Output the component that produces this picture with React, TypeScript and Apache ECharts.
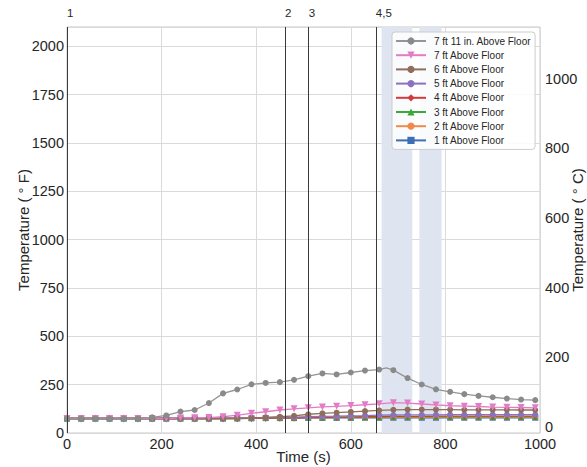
import React, { useEffect, useRef } from "react";
import * as echarts from "echarts";

// Time stamps (s) of the plotted samples
const times = [0, 30, 60, 90, 120, 150, 180, 210, 240, 270, 300, 330, 360, 390, 420, 450, 480, 510, 540, 570, 600, 630, 660, 690, 720, 750, 780, 810, 840, 870, 900, 930, 960, 990];

// Temperatures (°F)
const ft1 = [75, 75, 75, 75, 75, 75, 75, 75, 75, 75, 75, 75, 76, 76, 77, 77, 77, 78, 78, 78, 78, 79, 79, 79, 79, 79, 79, 79, 79, 79, 79, 79, 79, 79];
const ft2 = [75, 75, 75, 75, 75, 75, 75, 75, 75, 75, 75, 76, 76, 77, 77, 78, 78, 79, 79, 80, 80, 80, 81, 81, 81, 81, 81, 81, 81, 81, 81, 81, 81, 81];
const ft3 = [75, 75, 75, 75, 75, 75, 75, 75, 75, 75, 75, 76, 76, 77, 78, 78, 79, 80, 80, 81, 81, 82, 82, 83, 83, 83, 83, 83, 83, 83, 83, 83, 83, 83];
const ft4 = [75, 75, 75, 75, 75, 75, 75, 75, 75, 75, 75, 75, 75, 76, 77, 78, 79, 80, 81, 82, 83, 84, 85, 86, 86, 86, 87, 87, 87, 87, 87, 87, 87, 87];
const ft5 = [75, 75, 75, 75, 75, 75, 75, 75, 75, 75, 75, 76, 77, 78, 80, 81, 82, 84, 86, 87, 89, 90, 92, 93, 94, 94, 94, 95, 95, 95, 95, 95, 95, 95];
const ft6 = [75, 75, 75, 75, 75, 75, 75, 75, 75, 75, 75, 75, 75, 77, 81, 84, 89, 97, 102, 105, 109, 113, 117, 120, 121, 121, 121, 121, 120, 120, 120, 120, 119, 119];
const ft7 = [75, 75, 75, 75, 75, 75, 75, 75, 78, 79, 80, 84, 92, 102, 110, 119, 125, 130, 135, 138, 142, 146, 151, 157, 155, 150, 145, 141, 139, 137, 134, 133, 132, 130];
const ft7_11Times = [0, 30, 60, 90, 120, 150, 180, 210, 240, 270, 300, 330, 360, 390, 420, 450, 480, 510, 540, 570, 600, 630, 660, 675, 690, 720, 750, 780, 810, 840, 870, 900, 930, 960, 990];
const ft7_11 = [75, 75, 75, 75, 75, 75, 81, 91, 111, 119, 155, 205, 225, 252, 259, 263, 275, 294, 308, 303, 313, 323, 328, 337, 325, 284, 251, 226, 213, 201, 192, 185, 178, 173, 170];

const seriesNames = [
  "1 ft Above Floor",
  "2 ft Above Floor",
  "3 ft Above Floor",
  "4 ft Above Floor",
  "5 ft Above Floor",
  "6 ft Above Floor",
  "7 ft Above Floor",
  "7 ft 11 in. Above Floor",
];

// Event markers
const eventTimes = [0, 461, 511, 653];
const eventLabels = ["1", "2", "3", "4,5"];
const bands = [
  [665, 730],
  [745, 792],
];

// Tick labels
const xTicks = [0, 200, 400, 600, 800, 1000];
const fTicks = [0, 250, 500, 750, 1000, 1250, 1500, 1750, 2000];
const cTicks = [0, 200, 400, 600, 800, 1000];

const FONT = "'Liberation Sans', Arial, sans-serif";
const TXT = "#262626";

export default function App() {
  const ref = useRef<HTMLDivElement>(null);
  useEffect(() => {
    if (!ref.current) return;
    const chart = echarts.init(ref.current, undefined, { renderer: "svg" });

    const styles = [
      { color: "#3d6fb6", symbol: "rect", size: 6, rotate: 0 },
      { color: "#f08a4b", symbol: "circle", size: 6, rotate: 0 },
      { color: "#3aa83a", symbol: "triangle", size: 6, rotate: 0 },
      { color: "#d33a3a", symbol: "diamond", size: [4, 8], rotate: 0 },
      { color: "#8a72c0", symbol: "circle", size: 6, rotate: 0 },
      { color: "#8f6e5c", symbol: "circle", size: 6, rotate: 0 },
      { color: "#e37cc6", symbol: "triangle", size: 7, rotate: 180 },
      { color: "#8a8a8a", symbol: "circle", size: 6, rotate: 0 },
    ];
    const values = [ft1, ft2, ft3, ft4, ft5, ft6, ft7];

    const dataSeries: any[] = values.map((vals, i) => ({
      name: seriesNames[i],
      type: "line",
      xAxisIndex: 0,
      yAxisIndex: 0,
      data: times.map((t, k) => [t, vals[k]]),
      symbol: styles[i].symbol,
      symbolSize: styles[i].size,
      symbolRotate: styles[i].rotate,
      showAllSymbol: true,
      itemStyle: { color: styles[i].color },
      lineStyle: { color: styles[i].color, width: 1.3 },
    }));
    dataSeries.push({
      name: seriesNames[7],
      type: "line",
      xAxisIndex: 0,
      yAxisIndex: 0,
      data: ft7_11Times.map((t, k) =>
        times.includes(t)
          ? [t, ft7_11[k]]
          : { value: [t, ft7_11[k]], symbol: "none" }
      ),
      symbol: styles[7].symbol,
      symbolSize: styles[7].size,
      showAllSymbol: true,
      itemStyle: { color: styles[7].color },
      lineStyle: { color: "#959595", width: 1.3 },
    });

    const helper = {
      name: "events",
      type: "line",
      xAxisIndex: 0,
      yAxisIndex: 0,
      data: [],
      silent: true,
      markArea: {
        silent: true,
        itemStyle: { color: "#dee4f0" },
        data: bands.map((b) => [{ xAxis: b[0] }, { xAxis: b[1] }]),
      },
      markLine: {
        silent: true,
        symbol: "none",
        label: { show: false },
        lineStyle: { color: "#3a3a3a", width: 1, type: "solid" },
        data: eventTimes.map((t) => ({ xAxis: t })),
      },
    };

    chart.setOption({
      animation: false,
      backgroundColor: "#ffffff",
      textStyle: { fontFamily: FONT },
      grid: {
        left: 67,
        right: 47,
        top: 27,
        bottom: 34,
        show: true,
        borderColor: "#c8c8c8",
        borderWidth: 1,
        backgroundColor: "transparent",
        containLabel: false,
        outerBoundsMode: "none",
      },
      legend: {
        orient: "vertical",
        left: 392,
        top: 32,
        padding: [4, 4, 4, 3],
        backgroundColor: "rgba(255,255,255,0.85)",
        borderColor: "#cccccc",
        borderWidth: 1,
        borderRadius: 3,
        itemWidth: 30,
        itemHeight: 9,
        itemGap: 4.2,
        data: [...seriesNames].reverse(),
        textStyle: {
          fontFamily: FONT,
          fontSize: 10,
          color: TXT,
          padding: [0, 0, 0, 3],
        },
      },
      xAxis: [
        {
          type: "value",
          min: 0,
          max: 1000,
          interval: 200,
          name: "Time (s)",
          nameLocation: "middle",
          nameGap: 16,
          nameMoveOverlap: false,
          nameTextStyle: { fontFamily: FONT, fontSize: 15, color: TXT },
          axisLine: { show: false },
          axisTick: { show: false },
          axisLabel: {
            customValues: xTicks,
            formatter: (v: number) => String(v),
            fontFamily: FONT,
            fontSize: 14.5,
            color: TXT,
            margin: 3,
          },
          splitLine: { show: true, lineStyle: { color: "#dadada", width: 1 } },
        },
        {
          type: "value",
          position: "top",
          min: 0,
          max: 1000,
          axisLine: { show: false },
          axisTick: {
            show: true,
            customValues: eventTimes,
            length: 5,
            lineStyle: { color: "#3a3a3a", width: 1 },
          },
          axisLabel: {
            customValues: eventTimes,
            formatter: (v: number) => {
              const i = eventTimes.findIndex((t) => Math.abs(t - v) < 0.5);
              return i >= 0 ? eventLabels[i] : "";
            },
            align: "left",
            fontFamily: FONT,
            fontSize: 11.5,
            color: TXT,
            margin: 8,
          },
          splitLine: { show: false },
        },
      ],
      yAxis: [
        {
          type: "value",
          min: 0,
          max: 2100,
          interval: 250,
          name: "Temperature ( ° F)",
          nameLocation: "middle",
          nameGap: 36,
          nameRotate: 90,
          nameMoveOverlap: false,
          nameTextStyle: { fontFamily: FONT, fontSize: 15, color: TXT },
          axisLine: { show: false },
          axisTick: { show: false },
          axisLabel: {
            customValues: fTicks,
            formatter: (v: number) => String(v),
            fontFamily: FONT,
            fontSize: 14.5,
            color: TXT,
            margin: 3,
          },
          splitLine: { show: true, lineStyle: { color: "#dadada", width: 1 } },
        },
        {
          type: "value",
          position: "right",
          min: 0,
          max: 2100,
          name: "Temperature ( ° C)",
          nameLocation: "middle",
          nameGap: 30,
          nameRotate: 90,
          nameMoveOverlap: false,
          nameTextStyle: { fontFamily: FONT, fontSize: 15, color: TXT },
          axisLine: { show: false },
          axisTick: { show: false },
          axisLabel: {
            customValues: cTicks.map((c) => c * 1.8 + 32),
            formatter: (v: number) => String(Math.round((v - 32) / 1.8)),
            fontFamily: FONT,
            fontSize: 14.5,
            color: TXT,
            margin: 5,
          },
          splitLine: { show: false },
        },
      ],
      series: [helper, ...dataSeries],
    });

    return () => chart.dispose();
  }, []);

  return (
    <div
      ref={ref}
      style={{ position: "absolute", left: 0, top: 0, width: 587, height: 467, overflow: "hidden" }}
    />
  );
}
